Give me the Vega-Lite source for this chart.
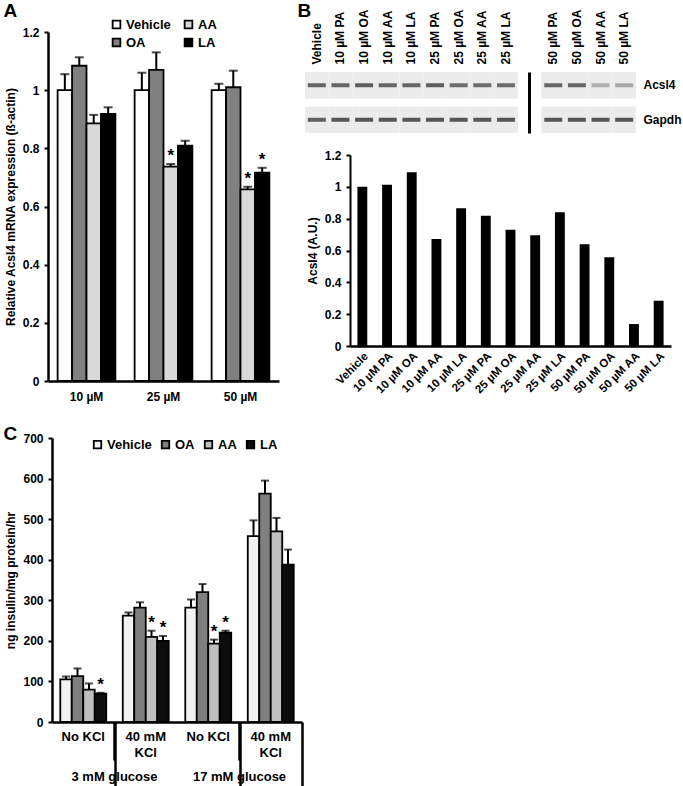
{
"$schema":"https://vega.github.io/schema/vega-lite/v6.json",
"width":683,"height":786,"autosize":{"type":"none"},"padding":0,"background":"white",
"config":{"view":{"stroke":null},"font":"Liberation Sans",
 "text":{"font":"Liberation Sans","fontWeight":"bold","color":"black"},
 "axis":{"labelFont":"Liberation Sans","labelFontWeight":"bold","labelFontSize":12,"labelColor":"black","titleFont":"Liberation Sans","titleFontWeight":"bold","titleFontSize":12,"titleColor":"black","domainColor":"black","domainWidth":2,"tickColor":"black","tickWidth":2,"tickSize":4,"grid":false},
 "legend":{"labelFont":"Liberation Sans","labelFontWeight":"bold","labelFontSize":13,"labelColor":"black"}},
"datasets":{
 "A":[
  {"conc":"10 µM","treat":"Vehicle","mean":1.0,"err":1.055,"sig":false},
  {"conc":"10 µM","treat":"OA","mean":1.084,"err":1.113,"sig":false},
  {"conc":"10 µM","treat":"AA","mean":0.886,"err":0.915,"sig":false},
  {"conc":"10 µM","treat":"LA","mean":0.918,"err":0.941,"sig":false},
  {"conc":"25 µM","treat":"Vehicle","mean":1.0,"err":1.06,"sig":false},
  {"conc":"25 µM","treat":"OA","mean":1.07,"err":1.13,"sig":false},
  {"conc":"25 µM","treat":"AA","mean":0.737,"err":0.746,"sig":true},
  {"conc":"25 µM","treat":"LA","mean":0.809,"err":0.826,"sig":false},
  {"conc":"50 µM","treat":"Vehicle","mean":1.0,"err":1.022,"sig":false},
  {"conc":"50 µM","treat":"OA","mean":1.01,"err":1.067,"sig":false},
  {"conc":"50 µM","treat":"AA","mean":0.659,"err":0.668,"sig":true},
  {"conc":"50 µM","treat":"LA","mean":0.716,"err":0.733,"sig":true}],
 "B":[
  {"lane":"Vehicle","value":1.0},{"lane":"10 µM PA","value":1.013},{"lane":"10 µM OA","value":1.092},
  {"lane":"10 µM AA","value":0.673},{"lane":"10 µM LA","value":0.866},{"lane":"25 µM PA","value":0.818},
  {"lane":"25 µM OA","value":0.73},{"lane":"25 µM AA","value":0.696},{"lane":"25 µM LA","value":0.841},
  {"lane":"50 µM PA","value":0.64},{"lane":"50 µM OA","value":0.558},{"lane":"50 µM AA","value":0.138},
  {"lane":"50 µM LA","value":0.285}],
 "blot":[
  {"lane":"Vehicle","protein":"Acsl4","intensity":0.85},{"lane":"10 µM PA","protein":"Acsl4","intensity":0.85},
  {"lane":"10 µM OA","protein":"Acsl4","intensity":0.9},{"lane":"10 µM AA","protein":"Acsl4","intensity":0.85},
  {"lane":"10 µM LA","protein":"Acsl4","intensity":0.85},{"lane":"25 µM PA","protein":"Acsl4","intensity":0.9},
  {"lane":"25 µM OA","protein":"Acsl4","intensity":0.8},{"lane":"25 µM AA","protein":"Acsl4","intensity":0.8},
  {"lane":"25 µM LA","protein":"Acsl4","intensity":0.8},{"lane":"50 µM PA","protein":"Acsl4","intensity":0.85},
  {"lane":"50 µM OA","protein":"Acsl4","intensity":0.85},{"lane":"50 µM AA","protein":"Acsl4","intensity":0.35},
  {"lane":"50 µM LA","protein":"Acsl4","intensity":0.4},
  {"lane":"Vehicle","protein":"Gapdh","intensity":0.9},{"lane":"10 µM PA","protein":"Gapdh","intensity":0.97},
  {"lane":"10 µM OA","protein":"Gapdh","intensity":0.97},{"lane":"10 µM AA","protein":"Gapdh","intensity":0.97},
  {"lane":"10 µM LA","protein":"Gapdh","intensity":0.97},{"lane":"25 µM PA","protein":"Gapdh","intensity":0.97},
  {"lane":"25 µM OA","protein":"Gapdh","intensity":0.97},{"lane":"25 µM AA","protein":"Gapdh","intensity":0.97},
  {"lane":"25 µM LA","protein":"Gapdh","intensity":0.97},{"lane":"50 µM PA","protein":"Gapdh","intensity":0.97},
  {"lane":"50 µM OA","protein":"Gapdh","intensity":0.97},{"lane":"50 µM AA","protein":"Gapdh","intensity":0.97},
  {"lane":"50 µM LA","protein":"Gapdh","intensity":0.97}],
 "C":[
  {"glucose":"3 mM glucose","cat":"3|No","treat":"Vehicle","mean":105,"err":112,"sig":false},
  {"glucose":"3 mM glucose","cat":"3|No","treat":"OA","mean":113,"err":132,"sig":false},
  {"glucose":"3 mM glucose","cat":"3|No","treat":"AA","mean":80,"err":95,"sig":false},
  {"glucose":"3 mM glucose","cat":"3|No","treat":"LA","mean":70,"err":72,"sig":true},
  {"glucose":"3 mM glucose","cat":"3|40","treat":"Vehicle","mean":262,"err":270,"sig":false},
  {"glucose":"3 mM glucose","cat":"3|40","treat":"OA","mean":282,"err":295,"sig":false},
  {"glucose":"3 mM glucose","cat":"3|40","treat":"AA","mean":210,"err":225,"sig":true},
  {"glucose":"3 mM glucose","cat":"3|40","treat":"LA","mean":200,"err":212,"sig":true},
  {"glucose":"17 mM glucose","cat":"17|No","treat":"Vehicle","mean":282,"err":302,"sig":false},
  {"glucose":"17 mM glucose","cat":"17|No","treat":"OA","mean":320,"err":340,"sig":false},
  {"glucose":"17 mM glucose","cat":"17|No","treat":"AA","mean":193,"err":203,"sig":true},
  {"glucose":"17 mM glucose","cat":"17|No","treat":"LA","mean":220,"err":225,"sig":true},
  {"glucose":"17 mM glucose","cat":"17|40","treat":"Vehicle","mean":458,"err":497,"sig":false},
  {"glucose":"17 mM glucose","cat":"17|40","treat":"OA","mean":563,"err":595,"sig":false},
  {"glucose":"17 mM glucose","cat":"17|40","treat":"AA","mean":470,"err":503,"sig":false},
  {"glucose":"17 mM glucose","cat":"17|40","treat":"LA","mean":388,"err":425,"sig":false}],
 "Cx":[
  {"glucose":"3 mM glucose","kcl":"No KCl","line1":"No KCl","line2":""},
  {"glucose":"3 mM glucose","kcl":"40 mM KCl","line1":"40 mM","line2":"KCl"},
  {"glucose":"17 mM glucose","kcl":"No KCl","line1":"No KCl","line2":""},
  {"glucose":"17 mM glucose","kcl":"40 mM KCl","line1":"40 mM","line2":"KCl"}],
 "Cg":[{"glucose":"3 mM glucose"},{"glucose":"17 mM glucose"}]
},
"layer":[
 {
  "data":{"name":"A"},
  "encoding":{
   "x":{"field":"conc","type":"nominal","sort":null,
        "scale":{"domain":["10 µM","25 µM","50 µM"],"range":[48,279],"paddingInner":0.25,"paddingOuter":0.125},
        "axis":{"orient":"bottom","offset":-405,"ticks":false,"labelAngle":0,"labelPadding":10,"domainWidth":2.5,
                "title":"A","titleX":3,"titleY":-380,"titleAngle":0,"titleAlign":"left","titleBaseline":"top","titleFontSize":19}},
   "xOffset":{"field":"treat","type":"nominal","sort":null,"scale":{"domain":["Vehicle","OA","AA","LA"],"paddingInner":0,"paddingOuter":0}},
   "y":{"field":"mean","type":"quantitative",
        "scale":{"domain":[0,1.2],"range":[381,32],"nice":false},
        "axis":{"orient":"left","offset":-48,"values":[0,0.2,0.4,0.6,0.8,1,1.2],"format":".1~f","domainWidth":2.5,
                "title":"Relative Acsl4 mRNA expression (ß-actin)","titlePadding":5,"labelPadding":5}}
  },
  "layer":[
   {"mark":{"type":"bar","stroke":"black","strokeWidth":1.8},
    "encoding":{"fill":{"field":"treat","type":"nominal","sort":null,
      "scale":{"domain":["Vehicle","OA","AA","LA"],"range":["#ffffff","#808080","#d9d9d9","#000000"]},
      "legend":{"orient":"none","legendX":110,"legendY":18,"columns":2,"columnPadding":10,"rowPadding":3,"title":null,
                "symbolType":"square","symbolSize":60,"symbolStrokeColor":"black","symbolStrokeWidth":1.8,"labelOffset":3}}}},
   {"mark":{"type":"rule","strokeWidth":2,"color":"black"},"encoding":{"y2":{"field":"err"}}},
   {"mark":{"type":"tick","thickness":2,"size":9,"color":"black"},
    "encoding":{"y":{"field":"err","type":"quantitative",
        "axis":{"orient":"left","offset":-48,"values":[0,0.2,0.4,0.6,0.8,1,1.2],"format":".1~f","domainWidth":2.5,
                "title":"Relative Acsl4 mRNA expression (ß-actin)","titlePadding":5,"labelPadding":5}}}},
   {"transform":[{"filter":"datum.sig"}],
    "mark":{"type":"text","text":"*","fontSize":17,"fontWeight":"bold","baseline":"alphabetic","dy":-3,"color":"black"},
    "encoding":{"y":{"field":"err","type":"quantitative",
        "axis":{"orient":"left","offset":-48,"values":[0,0.2,0.4,0.6,0.8,1,1.2],"format":".1~f","domainWidth":2.5,
                "title":"Relative Acsl4 mRNA expression (ß-actin)","titlePadding":5,"labelPadding":5}}}}
  ]
 },
 {
  "data":{"name":"B"},
  "mark":{"type":"bar","color":"black"},
  "encoding":{
   "x":{"field":"lane","type":"nominal","sort":null,
        "scale":{"domain":["Vehicle","10 µM PA","10 µM OA","10 µM AA","10 µM LA","25 µM PA","25 µM OA","25 µM AA","25 µM LA","50 µM PA","50 µM OA","50 µM AA","50 µM LA"],
                 "range":[350,671],"paddingInner":0.6,"paddingOuter":0.3},
        "axis":{"orient":"bottom","offset":-440,"labelAngle":-45,"ticks":false,"labelPadding":4,"labelFontSize":11.5,"domainWidth":2.5,"title":null}},
   "y":{"field":"value","type":"quantitative",
        "scale":{"domain":[0,1.2],"range":[346,155],"nice":false},
        "axis":{"orient":"left","offset":-350,"values":[0,0.2,0.4,0.6,0.8,1,1.2],"format":".1~f","domainWidth":2,
                "title":"Acsl4 (A.U.)","titlePadding":5,"labelPadding":5}}
  }
 },
 {
  "data":{"name":"blot"},
  "mark":{"type":"rect","color":"#ebebeb"},
  "encoding":{
   "x":{"field":"lane","type":"nominal","sort":null,
        "scale":{"domain":["Vehicle","10 µM PA","10 µM OA","10 µM AA","10 µM LA","25 µM PA","25 µM OA","25 µM AA","25 µM LA","sep","50 µM PA","50 µM OA","50 µM AA","50 µM LA"],
                 "range":[305,636],"paddingInner":0,"paddingOuter":0},
        "axis":{"orient":"top","offset":-68,"labelAngle":-90,"ticks":false,"domain":false,"labelPadding":4,"labelFontSize":12,
                "labelExpr":"datum.value == 'sep' ? '' : datum.value","title":null}},
   "y":{"field":"protein","type":"nominal","sort":null,
        "scale":{"domain":["Acsl4","Gapdh"],"range":[72,133],"paddingInner":0.232,"paddingOuter":0},
        "axis":{"orient":"right","offset":-47,"ticks":false,"domain":false,"labelPadding":7,"labelFontSize":12,
                "title":"B","titleX":-339,"titleY":1,"titleAngle":0,"titleAlign":"left","titleBaseline":"top","titleFontSize":19}}
  }
 },
 {
  "data":{"name":"blot"},
  "mark":{"type":"tick","thickness":4,"size":18,"orient":"horizontal"},
  "encoding":{
   "x":{"field":"lane","type":"nominal","sort":null,
        "scale":{"domain":["Vehicle","10 µM PA","10 µM OA","10 µM AA","10 µM LA","25 µM PA","25 µM OA","25 µM AA","25 µM LA","sep","50 µM PA","50 µM OA","50 µM AA","50 µM LA"],
                 "range":[305,636],"paddingInner":0,"paddingOuter":0},
        "axis":{"orient":"top","offset":0,"values":["sep"],"labels":false,"ticks":false,"domain":false,"grid":true,"gridColor":"black","gridWidth":3,"gridOpacity":1,"title":null}},
   "y":{"field":"protein","type":"nominal","sort":null,
        "scale":{"domain":["Acsl4","Gapdh"],"range":[72,133],"paddingInner":0.232,"paddingOuter":0},"axis":null},
   "color":{"field":"intensity","type":"quantitative","scale":{"domain":[0,1],"range":["#ebebeb","#111111"]},"legend":null}
  }
 },
 {
  "data":{"name":"C"},
  "encoding":{
   "x":{"field":"cat","type":"nominal","sort":null,
        "scale":{"domain":["3|No","3|40","17|No","17|40"],"range":[52,302],"paddingInner":0,"paddingOuter":0},
        "axis":{"orient":"bottom","offset":-64,"ticks":false,"labels":false,"domainWidth":2.5,"title":null}},
   "xOffset":{"field":"treat","type":"nominal","sort":null,"scale":{"domain":["Vehicle","OA","AA","LA"],"paddingInner":0,"paddingOuter":0.72}},
   "y":{"field":"mean","type":"quantitative",
        "scale":{"domain":[0,700],"range":[722,438],"nice":false},
        "axis":{"orient":"left","offset":-52,"values":[0,100,200,300,400,500,600,700],"domainWidth":2.5,
                "title":"ng insulin/mg protein/hr","titlePadding":5,"labelPadding":5}}
  },
  "layer":[
   {"mark":{"type":"bar","stroke":"black","strokeWidth":1.8},
    "encoding":{"fill":{"field":"treat","type":"nominal","sort":null,
      "scale":{"domain":["Vehicle","OA","AA","LA"],"range":["#f2f2f2","#7f7f7f","#bfbfbf","#0d0d0d"]},
      "legend":{"orient":"none","legendX":91,"legendY":438,"direction":"horizontal","columns":4,"columnPadding":6,"title":null,
                "symbolType":"square","symbolSize":56,"symbolStrokeColor":"black","symbolStrokeWidth":1.8,"labelOffset":3}}}},
   {"mark":{"type":"rule","strokeWidth":2,"color":"black"},"encoding":{"y2":{"field":"err"}}},
   {"mark":{"type":"tick","thickness":2,"size":8,"color":"black"},
    "encoding":{"y":{"field":"err","type":"quantitative",
        "axis":{"orient":"left","offset":-52,"values":[0,100,200,300,400,500,600,700],"domainWidth":2.5,
                "title":"ng insulin/mg protein/hr","titlePadding":5,"labelPadding":5}}}},
   {"transform":[{"filter":"datum.sig"}],
    "mark":{"type":"text","text":"*","fontSize":17,"fontWeight":"bold","baseline":"alphabetic","dy":-3,"color":"black"},
    "encoding":{"y":{"field":"err","type":"quantitative",
        "axis":{"orient":"left","offset":-52,"values":[0,100,200,300,400,500,600,700],"domainWidth":2.5,
                "title":"ng insulin/mg protein/hr","titlePadding":5,"labelPadding":5}}}}
  ]
 },
 {
  "data":{"name":"Cx"},
  "mark":{"type":"text","fontSize":13,"fontWeight":"bold","baseline":"middle","color":"black"},
  "encoding":{
   "x":{"field":"glucose","type":"nominal","sort":null,
        "scale":{"domain":["3 mM glucose","17 mM glucose"],"range":[52,302],"paddingInner":0,"paddingOuter":0},
        "axis":{"orient":"top","offset":0,"labels":false,"ticks":false,"domain":false,"grid":true,"gridColor":"black","gridWidth":2.5,"gridOpacity":1,"title":null}},
   "xOffset":{"field":"kcl","type":"nominal","sort":null,"scale":{"type":"point","domain":["No KCl","40 mM KCl"],"padding":0.5}},
   "y":{"datum":0.605,"type":"quantitative","scale":{"domain":[0,1],"range":[760,722],"nice":false,"zero":false},"axis":null},
   "text":{"field":"line1"}
  }
 },
 {
  "data":{"name":"Cx"},
  "mark":{"type":"text","fontSize":13,"fontWeight":"bold","baseline":"middle","color":"black"},
  "encoding":{
   "x":{"field":"glucose","type":"nominal","sort":null,
        "scale":{"domain":["3 mM glucose","17 mM glucose"],"range":[52,302],"paddingInner":0,"paddingOuter":0},"axis":null},
   "xOffset":{"field":"kcl","type":"nominal","sort":null,"scale":{"type":"point","domain":["No KCl","40 mM KCl"],"padding":0.5}},
   "y":{"datum":0.184,"type":"quantitative","scale":{"domain":[0,1],"range":[760,722],"nice":false,"zero":false},"axis":null},
   "text":{"field":"line2"}
  }
 },
 {
  "data":{"name":"Cg"},
  "mark":{"type":"text","fontSize":13,"fontWeight":"bold","baseline":"middle","color":"black"},
  "encoding":{
   "x":{"field":"glucose","type":"nominal","sort":null,
        "scale":{"domain":["3 mM glucose","17 mM glucose"],"range":[52,302],"paddingInner":0,"paddingOuter":0},
        "axis":{"orient":"top","offset":0,"labels":false,"ticks":false,"domain":false,"grid":true,"bandPosition":0,"gridColor":"black","gridWidth":2.5,"gridOpacity":1,"title":null}},
   "y":{"datum":0.14,"type":"quantitative","scale":{"domain":[0,1],"range":[786,722],"nice":false,"zero":false},
        "axis":{"orient":"left","offset":-302,"labels":false,"ticks":false,"domain":true,"domainWidth":2.5,"grid":false,
                "title":"C","titleX":-299,"titleY":424,"titleAngle":0,"titleAlign":"left","titleBaseline":"top","titleFontSize":19}},
   "text":{"field":"glucose"}
  }
 }
],
"resolve":{"scale":{"x":"independent","y":"independent","xOffset":"independent","fill":"independent","color":"independent"},
           "axis":{"x":"independent","y":"independent"},
           "legend":{"fill":"independent","color":"independent"}}
}
